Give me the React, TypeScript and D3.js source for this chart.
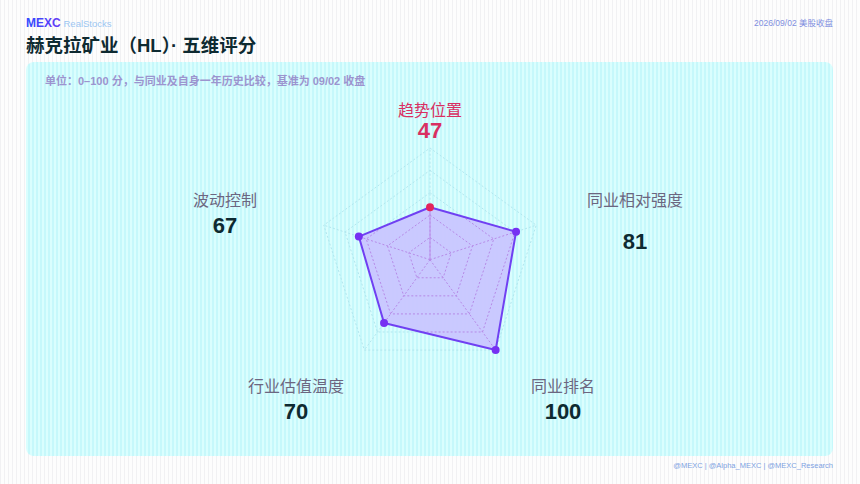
import React from "react";
import * as d3 from "d3";

const axes = ["趋势位置", "同业相对强度", "同业排名", "行业估值温度", "波动控制"];
const scores = [47, 81, 100, 70, 67];
const gridLevels = [20, 40, 60, 80, 100];

const W = 860, H = 484;
const cx = 430, cy = 259.7, R = 111.7;
const FONT = "'Liberation Sans', Arial, 'Noto Sans CJK SC', sans-serif";

// label placement (layout only)
const labelPos: { x: number; ly: number; vy: number }[] = [
  { x: 430, ly: 116, vy: 138 },
  { x: 635, ly: 206, vy: 249 },
  { x: 563, ly: 392, vy: 419 },
  { x: 296, ly: 392, vy: 419 },
  { x: 225, ly: 206, vy: 233 },
];

export default function App() {
  const r = d3.scaleLinear().domain([0, 100]).range([0, R]);
  const angle = (i: number) => (i * 2 * Math.PI) / axes.length;
  const pt = (i: number, v: number): [number, number] => [
    cx + Math.sin(angle(i)) * r(v),
    cy - Math.cos(angle(i)) * r(v),
  ];
  const line = d3.line<[number, number]>().curve(d3.curveLinearClosed);
  const polyPts = scores.map((v, i) => pt(i, v));
  const polyPath = line(polyPts) as string;
  const gridPaths = gridLevels.map((lv) => line(axes.map((_, i) => pt(i, lv))) as string);

  const grid = (stroke: string, spokeStroke: string) => (
    <g>
      {gridPaths.map((p, k) => (
        <path key={k} d={p} fill="none" stroke={stroke} strokeWidth={1} strokeDasharray="2 2" />
      ))}
      {axes.map((_, i) => {
        const [x, y] = pt(i, 100);
        return <line key={i} x1={cx} y1={cy} x2={x} y2={y} stroke={spokeStroke} strokeWidth={1} strokeDasharray="2 2" />;
      })}
    </g>
  );

  return (
    <svg width={W} height={H} style={{ position: "absolute", left: 0, top: 0, fontFamily: FONT }}>
      <defs>
        <pattern id="pageStripe" width="4" height="4" patternUnits="userSpaceOnUse">
          <rect width="4" height="4" fill="#fdfdfd" />
          <rect width="1" height="4" fill="#f1f1f3" />
        </pattern>
        <pattern id="panelStripe" width="4" height="4" patternUnits="userSpaceOnUse">
          <rect width="4" height="4" fill="#dafefe" />
          <rect width="2" height="4" fill="#c6f8fb" />
        </pattern>
        <linearGradient id="mexcGrad" x1="0" x2="1">
          <stop offset="0" stopColor="#2d4bff" />
          <stop offset="1" stopColor="#6a3cf5" />
        </linearGradient>
        <clipPath id="polyClip">
          <path d={polyPath} />
        </clipPath>
      </defs>
      <rect width={W} height={H} fill="url(#pageStripe)" />

      <text x={26} y={27} fontSize={12} fontWeight="bold" fill="url(#mexcGrad)">MEXC</text>
      <text x={63.5} y={27} fontSize={9.5} fill="#9cc6f2">RealStocks</text>
      <text x={833} y={26} fontSize={8.5} fill="#7f8fe0" textAnchor="end">2026/09/02 美股收盘</text>
      <text x={26} y={52} fontSize={18.5} fontWeight="bold" fill="#0e2a31">赫克拉矿业（HL）· 五维评分</text>

      <rect x={26} y={62} width={807} height={394} rx={8} fill="url(#panelStripe)" />
      <text x={45} y={85} fontSize={11} fontWeight="bold" fill="#9c94cf">单位：0–100 分，与同业及自身一年历史比较，基准为 09/02 收盘</text>

      {grid("#b2e6ee", "#b2e6ee")}
      <path d={polyPath} fill="#c9c6ff" fillOpacity={0.95} />
      <g clipPath="url(#polyClip)">{grid("#b68ae6", "#b68ae6")}</g>
      <line x1={cx} y1={cy} x2={pt(0, scores[0])[0]} y2={pt(0, scores[0])[1]} stroke="#bb90ea" strokeWidth={1} />
      <path d={polyPath} fill="none" stroke="#7040f2" strokeWidth={2} strokeLinejoin="round" />
      {polyPts.map(([x, y], i) => (
        <circle key={i} cx={x} cy={y} r={4} fill={i === 0 ? "#e3255c" : "#7630f2"} />
      ))}

      {axes.map((a, i) => (
        <g key={a}>
          <text x={labelPos[i].x} y={labelPos[i].ly} fontSize={16} textAnchor="middle" fill={i === 0 ? "#d92f62" : "#6c6680"}>{a}</text>
          <text x={labelPos[i].x} y={labelPos[i].vy} fontSize={22} fontWeight="bold" textAnchor="middle" fill={i === 0 ? "#d92f62" : "#0e2a31"}>{scores[i]}</text>
        </g>
      ))}

      <text x={833} y={468} fontSize={7.5} fill="#7da2e2" textAnchor="end">@MEXC  |  @Alpha_MEXC  |  @MEXC_Research</text>
    </svg>
  );
}
